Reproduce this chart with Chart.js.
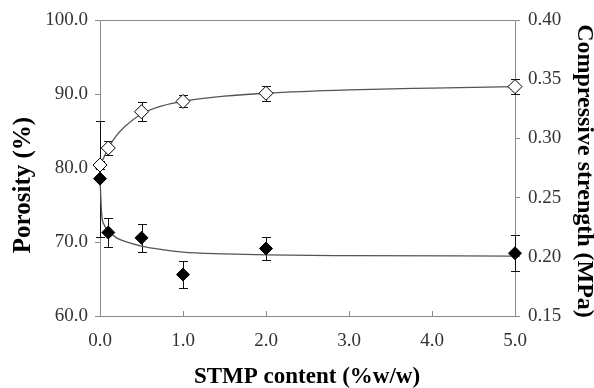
<!DOCTYPE html>
<html>
<head>
<meta charset="utf-8">
<script src="https://cdn.jsdelivr.net/npm/chart.js@4.4.0/dist/chart.umd.min.js"></script>
<style>
  html, body { margin: 0; padding: 0; background: #fff; }
  #wrap { width: 594px; height: 388px; position: relative; }
</style>
</head>
<body>
<div id="wrap"><canvas id="chart"></canvas></div>
<script>
// measured points
const stmp = [0.0, 0.1, 0.5, 1.0, 2.0, 5.0];
const porosity = [80.4, 82.7, 87.6, 89.0, 90.1, 91.0];
const porosityErr = [0.5, 0.9, 1.3, 0.8, 1.0, 1.0];
const strength = [0.266, 0.2205, 0.216, 0.185, 0.207, 0.203];
const strengthErr = [0.049, 0.0126, 0.0117, 0.0113, 0.010, 0.015];

// fitted curves
const porosityFitX = [0, 0.05, 0.1, 0.2, 0.3, 0.5, 0.75, 1.0, 1.5, 2.0, 3.0, 4.0, 5.0];
const porosityFitY = [80.4, 81.5, 82.7, 84.4, 85.6, 87.3, 88.4, 89.0, 89.7, 90.1, 90.55, 90.8, 91.0];
const strengthFitX = [0, 0.02, 0.05, 0.1, 0.2, 0.3, 0.5, 0.75, 1.0, 1.5, 2.0, 3.0, 5.0];
const strengthFitY = [0.266, 0.236, 0.227, 0.222, 0.216, 0.213, 0.209, 0.206, 0.204, 0.2025, 0.2016, 0.201, 0.2006];

// tick labels
const xTicks = ['0.0', '1.0', '2.0', '3.0', '4.0', '5.0'];
const yTicks = ['60.0', '70.0', '80.0', '90.0', '100.0'];
const y2Ticks = ['0.15', '0.20', '0.25', '0.30', '0.35', '0.40'];

const axisColor = '#8a8a8a';
const serif = "'Liberation Serif', 'Times New Roman', serif";

function pairs(xs, ys) {
    return xs.map((x, i) => ({ x: x, y: ys[i] }));
}

// error bars drawn under the markers
const errorBars = {
    id: 'errorBars',
    beforeDatasetsDraw(chart) {
        const ctx = chart.ctx;
        const xs = chart.scales.x;
        ctx.save();
        ctx.strokeStyle = '#111';
        ctx.lineWidth = 1;
        const draw = (vals, errs, scale) => {
            vals.forEach((v, i) => {
                const px = Math.round(xs.getPixelForValue(stmp[i])) + 0.5;
                const top = Math.round(scale.getPixelForValue(v + errs[i])) + 0.5;
                const bot = Math.round(scale.getPixelForValue(v - errs[i])) + 0.5;
                ctx.beginPath();
                ctx.moveTo(px, top); ctx.lineTo(px, bot);
                ctx.moveTo(px - 4.5, top); ctx.lineTo(px + 4.5, top);
                ctx.moveTo(px - 4.5, bot); ctx.lineTo(px + 4.5, bot);
                ctx.stroke();
            });
        };
        draw(porosity, porosityErr, chart.scales.y);
        draw(strength, strengthErr, chart.scales.y2);
        ctx.restore();
    }
};

// top border, inward x ticks and the axis titles
const frame = {
    id: 'frame',
    beforeDatasetsDraw(chart) {
        const ctx = chart.ctx;
        const a = chart.chartArea;
        const xs = chart.scales.x;
        ctx.save();
        ctx.strokeStyle = axisColor;
        ctx.lineWidth = 1;
        ctx.beginPath();
        ctx.moveTo(a.left, Math.round(a.top) + 0.5);
        ctx.lineTo(a.right, Math.round(a.top) + 0.5);
        xs.ticks.forEach(t => {
            const px = Math.round(xs.getPixelForValue(t.value)) + 0.5;
            ctx.moveTo(px, a.bottom);
            ctx.lineTo(px, a.bottom - 5);
        });
        ctx.stroke();
        ctx.restore();
    },
    afterDraw(chart) {
        const ctx = chart.ctx;
        ctx.save();
        ctx.fillStyle = '#000';
        ctx.textAlign = 'center';
        ctx.textBaseline = 'middle';

        ctx.font = 'bold 23px ' + serif;
        ctx.fillText('STMP content (%w/w)', 307, 377);

        ctx.save();
        ctx.translate(24, 185);
        ctx.rotate(-Math.PI / 2);
        ctx.font = 'bold 25px ' + serif;
        ctx.fillText('Porosity (%)', 0, 0);
        ctx.restore();

        ctx.save();
        ctx.translate(584, 171);
        ctx.rotate(Math.PI / 2);
        ctx.font = 'bold 24px ' + serif;
        ctx.fillText('Compressive strength (MPa)', 0, 0);
        ctx.restore();

        ctx.restore();
    }
};

const tickFont = { family: serif, size: 19 };

new Chart(document.getElementById('chart'), {
    type: 'line',
    data: {
        datasets: [
            {
                label: 'Porosity',
                data: pairs(stmp, porosity),
                yAxisID: 'y',
                showLine: false,
                pointStyle: 'rectRot',
                pointRadius: 7,
                pointBackgroundColor: '#fff',
                pointBorderColor: '#000',
                pointBorderWidth: 1,
                clip: false,
                order: 0
            },
            {
                label: 'Compressive strength',
                data: pairs(stmp, strength),
                yAxisID: 'y2',
                showLine: false,
                pointStyle: 'rectRot',
                pointRadius: 6.5,
                pointBackgroundColor: '#000',
                pointBorderColor: '#000',
                pointBorderWidth: 1,
                clip: false,
                order: 0
            },
            {
                label: 'Porosity fit',
                data: pairs(porosityFitX, porosityFitY),
                yAxisID: 'y',
                borderColor: '#555',
                borderWidth: 1.3,
                pointRadius: 0,
                cubicInterpolationMode: 'monotone',
                fill: false,
                clip: false,
                order: 1
            },
            {
                label: 'Strength fit',
                data: pairs(strengthFitX, strengthFitY),
                yAxisID: 'y2',
                borderColor: '#555',
                borderWidth: 1.3,
                pointRadius: 0,
                cubicInterpolationMode: 'monotone',
                fill: false,
                clip: false,
                order: 1
            }
        ]
    },
    options: {
        responsive: true,
        maintainAspectRatio: false,
        animation: false,
        layout: { padding: { top: 20, left: 0, right: 0, bottom: 0 } },
        plugins: {
            legend: { display: false },
            tooltip: { enabled: false }
        },
        scales: {
            x: {
                type: 'linear',
                min: 0,
                max: 5,
                afterFit: s => { s.height = 72; },
                border: { color: axisColor, width: 1 },
                grid: { drawOnChartArea: false, drawTicks: false },
                ticks: {
                    stepSize: 1,
                    padding: 14,
                    color: '#333',
                    font: tickFont,
                    callback: (v, i) => xTicks[i]
                }
            },
            y: {
                position: 'left',
                min: 60,
                max: 100,
                afterFit: s => { s.width = 100; },
                border: { color: axisColor, width: 1 },
                grid: { drawOnChartArea: false, tickLength: 5, tickColor: axisColor },
                ticks: {
                    stepSize: 10,
                    padding: 7,
                    color: '#333',
                    font: tickFont,
                    callback: (v, i) => yTicks[i]
                }
            },
            y2: {
                position: 'right',
                min: 0.15,
                max: 0.40,
                afterFit: s => { s.width = 79; },
                border: { color: axisColor, width: 1 },
                grid: { drawOnChartArea: false, tickLength: 5, tickColor: axisColor },
                ticks: {
                    stepSize: 0.05,
                    padding: 8,
                    color: '#333',
                    font: tickFont,
                    callback: (v, i) => y2Ticks[i]
                }
            }
        }
    },
    plugins: [errorBars, frame]
});
</script>
</body>
</html>
